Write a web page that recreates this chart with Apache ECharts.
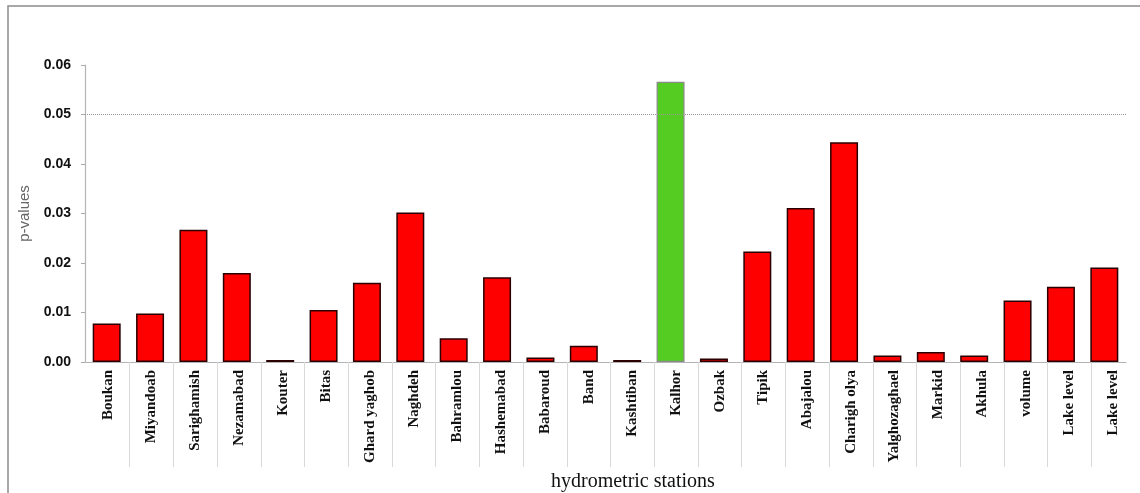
<!DOCTYPE html>
<html>
<head>
<meta charset="utf-8">
<script src="https://cdn.jsdelivr.net/npm/echarts@6/dist/echarts.min.js"></script>
<style>
html,body{margin:0;padding:0;background:#fff;}
#chart{width:1140px;height:493px;}
</style>
</head>
<body>
<div id="chart"></div>
<script>
const categories = ["Boukan","Miyandoab","Sarighamish","Nezamabad","Kouter","Bitas","Ghard yaghob","Naghdeh","Bahramlou","Hashemabad","Babaroud","Band","Kashtiban","Kalhor","Ozbak","Tipik","Abajalou","Charigh olya","Yalghozaghael","Markid","Akhula","volume","Lake level","Lake level"];
const pValues = [0.0078,0.0098,0.0267,0.0180,0.0004,0.0105,0.0160,0.0302,0.0048,0.0171,0.0009,0.0033,0.0004,0.0566,0.0007,0.0223,0.0311,0.0444,0.0013,0.0020,0.0013,0.0124,0.0152,0.0191];
const threshold = 0.05;
const yTicks = [0.00,0.01,0.02,0.03,0.04,0.05,0.06];

const chart = echarts.init(document.getElementById('chart'), null, {renderer:'canvas'});
const TOP = 65, BOTTOM = 131;
chart.setOption({
  animation:false,
  backgroundColor:'#fff',
  title:{
    text:'hydrometric stations', left:546, top:467,
    textStyle:{fontFamily:'Liberation Serif', fontWeight:'normal', fontSize:20, color:'#111'}
  },
  graphic:[{
    type:'polyline', silent:true,
    shape:{points:[[8,493],[8,6],[1140,6]]},
    style:{stroke:'#8c8c8c', lineWidth:1.5, fill:null}
  }],
  grid:[
    {left:85, right:14, top:TOP, bottom:BOTTOM, containLabel:false},
    {left:86, right:5, top:TOP, bottom:BOTTOM, containLabel:false},
    {left:86+43.68, right:5+43.68, top:TOP, bottom:BOTTOM, containLabel:false}
  ],
  xAxis:[
    {type:'category', gridIndex:0, data:categories, boundaryGap:true,
     axisLine:{lineStyle:{color:'#b4b4b4', width:1.2}},
     axisTick:{inside:true, length:6, lineStyle:{color:'#9a9a9a'}},
     axisLabel:{show:false}, splitLine:{show:false}},
    {type:'category', gridIndex:1, data:categories, boundaryGap:true, min:0, max:categories.length-1,
     axisLine:{show:false}, axisTick:{show:false}, splitLine:{show:false},
     axisLabel:{rotate:90, interval:0, margin:8, fontFamily:'Liberation Serif', fontWeight:'bold', fontSize:15, color:'#111'}},
    {type:'value', gridIndex:2, min:0, max:categories.length-2, interval:1,
     axisLine:{show:false}, axisLabel:{show:false}, splitLine:{show:false},
     axisTick:{show:true, length:105, lineStyle:{color:'#d9d9d9', width:1}}}
  ],
  yAxis:[
    {type:'value', gridIndex:0, min:yTicks[0], max:yTicks[yTicks.length-1], interval:0.01,
     name:'p-values', nameLocation:'middle', nameGap:40,
     nameTextStyle:{fontFamily:'Liberation Sans', fontSize:15, color:'#666'},
     axisLine:{show:true, lineStyle:{color:'#b4b4b4', width:1.2}},
     axisTick:{show:true, length:4, lineStyle:{color:'#aaa'}},
     axisLabel:{margin:14, fontFamily:'Liberation Sans', fontWeight:'bold', fontSize:14, color:'#111',
       formatter:v=>v.toFixed(2)},
     splitLine:{show:false}},
    {type:'value', gridIndex:1, show:false, min:0, max:1},
    {type:'value', gridIndex:2, show:false, min:0, max:1}
  ],
  series:[{
    type:'bar', xAxisIndex:0, yAxisIndex:0, barWidth:28,
    data:pValues.map(v=>({
      value:v,
      itemStyle: v > threshold
        ? {color:'#55cc22', borderColor:'#8a8a8a', borderWidth:1.2}
        : {color:'#ff0000', borderColor:'#2a0000', borderWidth:1.5}
    })),
    markLine:{
      silent:true, symbol:['none','none'], label:{show:false},
      lineStyle:{type:'dotted', color:'#999', width:1},
      data:[{yAxis:threshold}]
    }
  }]
});
</script>
</body>
</html>
